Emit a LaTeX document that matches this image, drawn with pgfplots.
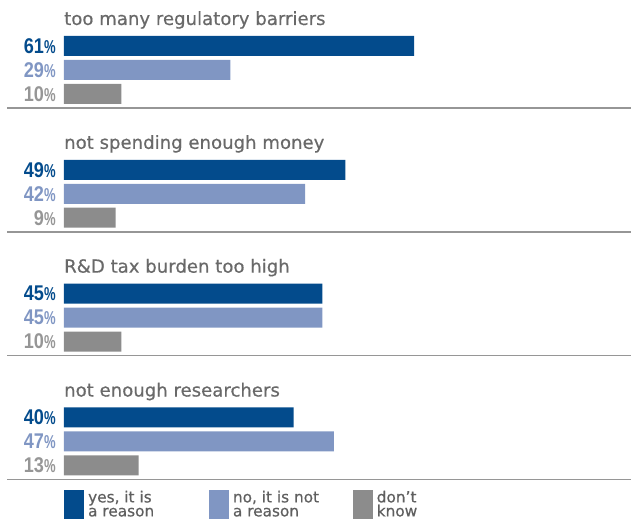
\documentclass[border=0pt]{standalone}
\usepackage{pgfplots}
\pgfplotsset{compat=1.18}
\usepackage{fontspec}
\setmainfont{DejaVu Sans}[FakeBold=0.5]
\newfontfamily\numfont{Liberation Sans}[FakeStretch=0.85]
\newfontfamily\pctfont{Liberation Sans}[FakeStretch=0.7]
\definecolor{cyes}{RGB}{3,75,140}
\definecolor{cno}{RGB}{128,150,195}
\definecolor{cdk}{RGB}{140,140,140}
\definecolor{cdklab}{RGB}{150,150,150}
\definecolor{ctitle}{RGB}{105,105,105}
\definecolor{cleg}{RGB}{95,95,95}
\definecolor{crule}{RGB}{150,150,150}
\newcommand\plab[1]{{\numfont\bfseries\fontsize{16}{16}\selectfont #1}{\pctfont\bfseries\fontsize{14}{14}\selectfont\%}}
\begin{document}
\begin{tikzpicture}
\begin{axis}[
  scale only axis, width=474pt, height=391.5pt,
  xmin=-11.13, xmax=98.78, ymin=0, ymax=522, y dir=reverse,
  hide axis, clip=false,
]
\path (rel axis cs:0,0) rectangle (rel axis cs:1,1);
% bars
\addplot[xbar, bar width=20, bar shift=0pt, fill=cyes, draw=none] coordinates {(61,46) (49,170) (45,294) (40,418)};
\addplot[xbar, bar width=20, bar shift=0pt, fill=cno, draw=none] coordinates {(29,70) (42,194) (45,318) (47,442)};
\addplot[xbar, bar width=20, bar shift=0pt, fill=cdk, draw=none] coordinates {(10,94) (9,218) (10,342) (13,466)};
% value labels
\addplot[draw=none, mark=none, point meta=explicit symbolic, nodes near coords={\plab{\pgfplotspointmeta}}, nodes near coords align={left}, every node near coord/.append style={inner sep=0pt, text=cyes}] coordinates {(-1.39,46)[61] (-1.39,170)[49] (-1.39,294)[45] (-1.39,418)[40]};
\addplot[draw=none, mark=none, point meta=explicit symbolic, nodes near coords={\plab{\pgfplotspointmeta}}, nodes near coords align={left}, every node near coord/.append style={inner sep=0pt, text=cno}] coordinates {(-1.39,70)[29] (-1.39,194)[42] (-1.39,318)[45] (-1.39,442)[47]};
\addplot[draw=none, mark=none, point meta=explicit symbolic, nodes near coords={\plab{\pgfplotspointmeta}}, nodes near coords align={left}, every node near coord/.append style={inner sep=0pt, text=cdklab}] coordinates {(-1.39,94)[10] (-1.39,218)[9] (-1.39,342)[10] (-1.39,466)[13]};
% titles
\begin{scope}[every node/.style={anchor=base west, inner sep=0pt, text=ctitle, font=\fontsize{13.6}{16}\selectfont}]
\node at (axis cs:0,25) {too many regulatory barriers};
\node at (axis cs:0,149) {not spending enough money};
\node at (axis cs:0,273) {R\&D tax burden too high};
\node at (axis cs:0,397) {not enough researchers};
\end{scope}
% rules
\draw[crule, line width=1.2pt] (axis cs:-9.91,108) -- (axis cs:98.78,108);
\draw[crule, line width=1.2pt] (axis cs:-9.91,232) -- (axis cs:98.78,232);
\draw[crule, line width=1.2pt] (axis cs:-9.91,356) -- (axis cs:98.78,356);
\draw[crule, line width=1.2pt] (axis cs:-9.91,480) -- (axis cs:98.78,480);
% legend
\fill[cyes] (axis cs:0,491) rectangle (axis cs:3.48,520);
\fill[cno] (axis cs:25.22,491) rectangle (axis cs:28.7,520);
\fill[cdk] (axis cs:50.26,491) rectangle (axis cs:53.74,520);
\begin{scope}[every node/.style={anchor=base west, inner sep=0pt, text=cleg, font=\fontsize{11.5}{10.5}\selectfont, align=left}]
\node at (axis cs:4.17,503) {yes, it is};
\node at (axis cs:4.17,517) {a reason};
\node at (axis cs:29.39,503) {no, it is not};
\node at (axis cs:29.39,517) {a reason};
\node at (axis cs:54.43,503) {don’t};
\node at (axis cs:54.43,517) {know};
\end{scope}
\end{axis}
\end{tikzpicture}
\end{document}
